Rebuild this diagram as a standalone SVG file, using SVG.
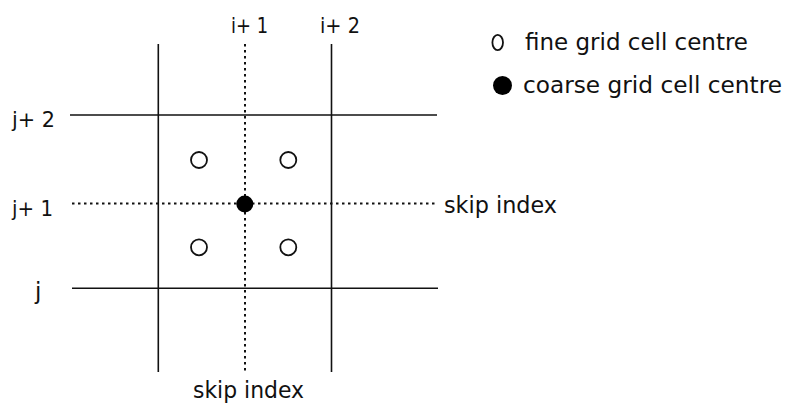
<svg xmlns="http://www.w3.org/2000/svg" width="791" height="407" viewBox="0 0 791 407">
<style>
.t{font-family:"DejaVu Sans","Liberation Sans",sans-serif;font-size:23px;fill:#111}
.sm{font-size:21px}
.s{stroke:#111;stroke-width:1.6;fill:none}
.d{stroke:#111;stroke-width:2;fill:none;stroke-dasharray:2.5 3.5}
.f{fill:#fff;stroke:#111;stroke-width:1.8}
.c{fill:#000}
</style>
<rect width="791" height="407" fill="#fff"/>
<g id="connectors">
<line class="s" x1="158.3" y1="44" x2="158.3" y2="372"/>
<line class="s" x1="331.5" y1="44" x2="331.5" y2="372"/>
<line class="d" x1="245" y1="44" x2="245" y2="373"/>
<line class="s" x1="70" y1="115" x2="437" y2="115"/>
<line class="s" x1="72" y1="288.3" x2="438" y2="288.3"/>
<line class="d" x1="72" y1="203.5" x2="437" y2="203.5"/>
</g>
<g id="labels">
<text class="t sm" x="231" y="33" textLength="37" lengthAdjust="spacingAndGlyphs">i+ 1</text>
<text class="t sm" x="320" y="33" textLength="40" lengthAdjust="spacingAndGlyphs">i+ 2</text>
<text class="t sm" x="12" y="127" textLength="43" lengthAdjust="spacingAndGlyphs">j+ 2</text>
<text class="t sm" x="12" y="216" textLength="41" lengthAdjust="spacingAndGlyphs">j+ 1</text>
<text class="t" x="35" y="299">j</text>
<text class="t" x="444" y="213" textLength="113" lengthAdjust="spacingAndGlyphs">skip index</text>
<text class="t" x="193" y="398" textLength="111" lengthAdjust="spacingAndGlyphs">skip index</text>
</g>
<g id="fine-cells">
<circle class="f" cx="199" cy="160" r="8"/>
<circle class="f" cx="288.3" cy="160" r="8"/>
<circle class="f" cx="199" cy="247.3" r="8"/>
<circle class="f" cx="288.3" cy="247.3" r="8"/>
</g>
<g id="coarse-cell">
<circle class="c" cx="244.8" cy="204" r="8.5"/>
</g>
<g id="legend">
<ellipse class="f" cx="497.7" cy="42.5" rx="5.3" ry="7.6"/>
<text class="t" x="525" y="50" textLength="223" lengthAdjust="spacingAndGlyphs">fine grid cell centre</text>
<circle class="c" cx="502.5" cy="85.5" r="9.5"/>
<text class="t" x="523" y="93" textLength="259" lengthAdjust="spacingAndGlyphs">coarse grid cell centre</text>
</g>
</svg>
